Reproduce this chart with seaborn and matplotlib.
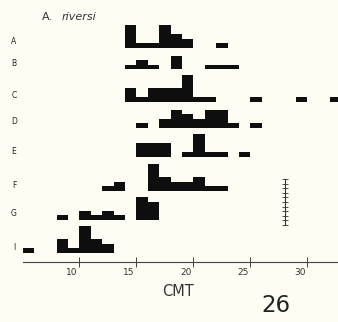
"""Stacked CMT histograms for A. riversi (scanned plate recreation)."""

import matplotlib
matplotlib.use("Agg")
import matplotlib.pyplot as plt
import matplotlib.transforms as mtransforms
import numpy as np
import pandas as pd
import seaborn as sns

sns.set_theme(style="white")
plt.rcParams["font.family"] = ["DejaVu Sans"]

BG = "#FDFDF4"
INK = "#0E0E0E"

# rows of the plate: left edge of each CMT class and the number of specimens
ROW_LABELS = ["A", "B", "C", "D", "E", "F", "G", "I"]
bins_a = [14, 15, 16, 17, 18, 19, 22]
counts_a = [5, 1, 1, 5, 3, 2, 1]
bins_b = [14, 15, 16, 18, 21, 22, 23]
counts_b = [1, 2, 1, 3, 1, 1, 1]
bins_c = [14, 15, 16, 17, 18, 19, 20, 21, 25, 29, 32]
counts_c = [3, 1, 3, 3, 3, 6, 1, 1, 1, 1, 1]
bins_d = [15, 17, 18, 19, 20, 21, 22, 23, 25]
counts_d = [1, 2, 4, 3, 2, 4, 4, 1, 1]
bins_e = [15, 16, 17, 19, 20, 21, 22, 24]
counts_e = [3, 3, 3, 1, 5, 1, 1, 1]
bins_f = [12, 13, 16, 17, 18, 19, 20, 21, 22]
counts_f = [1, 2, 6, 3, 2, 2, 3, 1, 1]
bins_g = [8, 10, 11, 12, 13, 15, 16]
counts_g = [1, 2, 1, 2, 1, 5, 4]
bins_i = [5, 8, 9, 10, 11, 12]
counts_i = [1, 3, 1, 6, 3, 2]

ROW_BINS = [bins_a, bins_b, bins_c, bins_d, bins_e, bins_f, bins_g, bins_i]
ROW_COUNTS = [counts_a, counts_b, counts_c, counts_d, counts_e, counts_f, counts_g, counts_i]

X_TICKS = [10, 15, 20, 25, 30]
SCALE_X = 28          # CMT position of the 10-specimen scale bar
SCALE_COUNTS = list(range(11))

# layout in pixels of the 338x322 image
W, H = 338, 322
X_LEFT, X_RIGHT = 23, 338
XLIM = (5.05, 32.68)
UNIT = 4.5                      # pixels per specimen
BASELINES = [47.5, 69, 101.5, 127.5, 156.5, 190.5, 219.5, 252.5]
ROW_MAX = 7

fig = plt.figure(figsize=(W / 100, H / 100), dpi=100)
fig.patch.set_facecolor(BG)


def px_axes(x0, y_top, x1, y_bottom):
    ax = fig.add_axes([x0 / W, 1 - y_bottom / H, (x1 - x0) / W, (y_bottom - y_top) / H])
    ax.patch.set_alpha(0)
    return ax


# one histogram per row
for label, bins, counts, base in zip(ROW_LABELS, ROW_BINS, ROW_COUNTS, BASELINES):
    ax = px_axes(X_LEFT, base - ROW_MAX * UNIT, X_RIGHT, base)
    row = pd.DataFrame({"cmt": np.array(bins) + 0.5, "n": counts})
    edges = list(range(min(bins), max(bins) + 2))
    sns.histplot(
        data=row, x="cmt", weights="n", bins=edges,
        element="step", fill=True, color=INK, alpha=1, linewidth=0, ax=ax,
    )
    ax.set_xlim(*XLIM)
    ax.set_ylim(0, ROW_MAX)
    ax.set_axis_off()
    fig.text(14 / W, 1 - (base - 5.5) / H, label, fontsize=5.5, ha="center",
             va="center", color="#222222")

# CMT axis
axx = px_axes(X_LEFT, 230, X_RIGHT, 262)
axx.set_xlim(*XLIM)
axx.set_ylim(0, 1)
for side in ["left", "right", "top"]:
    axx.spines[side].set_visible(False)
axx.spines["bottom"].set_color("#444444")
axx.spines["bottom"].set_linewidth(0.8)
axx.set_yticks([])
axx.set_xticks(X_TICKS)
axx.set_xticklabels([str(t) for t in X_TICKS])
axx.tick_params(axis="x", direction="inout", length=7, width=0.7, color="#444444",
                labelsize=6.5, labelcolor="#333333", pad=1, bottom=True)
offset = mtransforms.ScaledTranslation(-1.5 / 100, 0, fig.dpi_scale_trans)
for lab in axx.get_xticklabels():
    lab.set_horizontalalignment("right")
    lab.set_transform(lab.get_transform() + offset)

# specimen scale bar
axs = px_axes(X_LEFT, 179, X_RIGHT, 225)
axs.set_xlim(*XLIM)
axs.set_ylim(0, 10)
for side in ["bottom", "right", "top"]:
    axs.spines[side].set_visible(False)
axs.spines["left"].set_position(("data", SCALE_X))
axs.spines["left"].set_color("#333333")
axs.spines["left"].set_linewidth(0.8)
axs.set_xticks([])
axs.set_yticks(SCALE_COUNTS)
axs.set_yticklabels([])
axs.tick_params(axis="y", direction="inout", length=4, width=0.6, color="#333333", left=True)

# texts
fig.text(42 / W, 1 - 17 / H, "A.", fontsize=8, ha="left", va="center", color="#333333")
fig.text(62 / W, 1 - 17 / H, "riversi", fontsize=8, style="italic", ha="left",
         va="center", color="#333333")
fig.text(178 / W, 1 - 291 / H, "CMT", fontsize=10.5, ha="center", va="center",
         color="#333333")
fig.text(276 / W, 1 - 305 / H, "26", fontsize=16.5, ha="center", va="center",
         color="#222222")

fig.savefig("out.png", dpi=100, facecolor=BG)
